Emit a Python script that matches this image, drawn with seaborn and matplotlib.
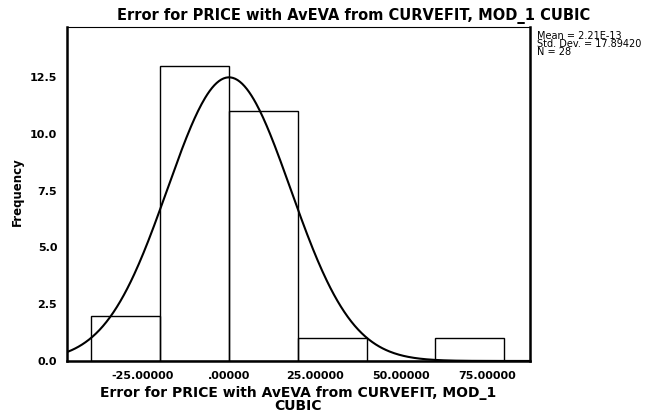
import numpy as np
import pandas as pd
import matplotlib
matplotlib.use("Agg")
import matplotlib.pyplot as plt
import seaborn as sns

# histogram bins
bin_edges = [-40, -20, 0, 20, 40, 60, 80]
counts = [2, 13, 11, 1, 0, 1]
tick_vals = [-25, 0, 25, 50, 75]
tick_labels = ["-25.00000", ".00000", "25.00000", "50.00000", "75.00000"]
y_ticks = [0, 2.5, 5, 7.5, 10, 12.5]
y_labels = ["0.0", "2.5", "5.0", "7.5", "10.0", "12.5"]

mean_val = 2.21e-13
sd_val = 17.89420
n_val = 28

sns.set_style("white")
plt.rcParams["font.family"] = ["DejaVu Sans"]
plt.rcParams["text.color"] = "black"
plt.rcParams["axes.labelcolor"] = "black"
plt.rcParams["xtick.color"] = "black"
plt.rcParams["ytick.color"] = "black"

centers = [(a + b) / 2 for a, b in zip(bin_edges[:-1], bin_edges[1:])]
df = pd.DataFrame({"err": centers, "n": counts})

fig = plt.figure(figsize=(6.54, 4.13), dpi=100)
ax = fig.add_axes([0.1024, 0.126, 0.708, 0.8086])

sns.histplot(data=df, x="err", weights="n", bins=bin_edges, ax=ax,
             fill=False, element="bars", color="black", linewidth=1.0)

# normal curve, scaled to counts
xmin, xmax = -47.1, 87.5
xs = np.linspace(xmin, xmax, 400)
bw = bin_edges[1] - bin_edges[0]
ys = n_val * bw / (sd_val * np.sqrt(2 * np.pi)) * np.exp(-0.5 * ((xs - mean_val) / sd_val) ** 2)
sns.lineplot(x=xs, y=ys, ax=ax, color="black", linewidth=1.5)

ax.set_xlim(xmin, xmax)
ax.set_ylim(0, 14.7)
ax.set_xticks(tick_vals)
ax.set_xticklabels(tick_labels, fontsize=8, fontweight="bold")
ax.set_yticks(y_ticks)
ax.set_yticklabels(y_labels, fontsize=8, fontweight="bold")
ax.tick_params(direction="out", length=5, width=1.2, pad=2)
for s in ax.spines.values():
    s.set_color("black")
    s.set_linewidth(1.8)
ax.spines["top"].set_linewidth(0.8)
ax.spines["top"].set_linestyle((0, (2, 1)))

ax.set_xlabel("Error for PRICE with AvEVA from CURVEFIT, MOD_1\nCUBIC",
              fontsize=10, fontweight="bold", labelpad=4, linespacing=0.85)
ax.set_ylabel("")
fig.text(0.026, 0.535, "Frequency", rotation=90, ha="center", va="center",
         fontsize=8.5, fontweight="bold")

fig.text(0.54, 0.962, "Error for PRICE with AvEVA from CURVEFIT, MOD_1 CUBIC",
         ha="center", va="center", fontsize=10.5, fontweight="bold")

fig.text(0.821, 0.925,
         f"Mean = 2.21E-13\nStd. Dev. = {sd_val:.5f}\nN = {n_val}",
         ha="left", va="top", fontsize=7, linespacing=0.75)

fig.savefig("out.png", dpi=100)
